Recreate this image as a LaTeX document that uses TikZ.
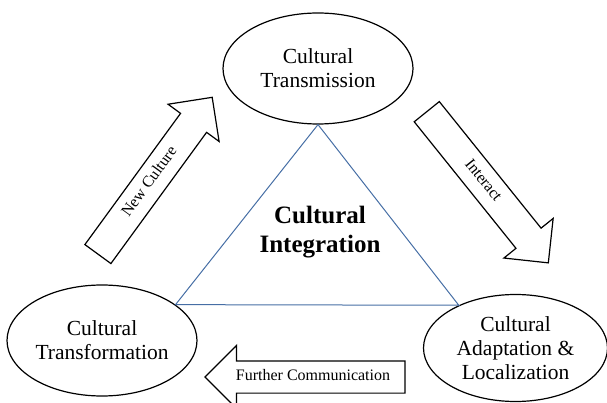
\documentclass[tikz,border=0pt]{standalone}
\usepackage{fontspec}
\setmainfont{Liberation Serif}
\usetikzlibrary{shapes.geometric,shapes.arrows}

\definecolor{triblue}{RGB}{70,110,165}

\begin{document}
\begin{tikzpicture}[x=1pt, y=-1pt,
        ell/.style={draw, ellipse, line width=1.2pt, minimum width=190pt, minimum height=111pt,
                    inner sep=0pt, align=center, font=\fontsize{21.5}{24}\selectfont},
        blk/.style={draw, single arrow, line width=1.2pt, single arrow head extend=15.5pt,
                    text height=11pt, text depth=4pt, inner ysep=8pt, font=\fontsize{16}{19}\selectfont},
        tri/.style={draw=triblue, line width=1pt}]
        \useasboundingbox (0,0) rectangle (607,403);

        \node[ell]                                             (trans)  at (318,68.5)  {Cultural\\Transmission};
        \node[ell]                                             (transf) at (102,340.5) {Cultural\\Transformation};
        \node[ell, minimum width=184pt, minimum height=107pt] (adapt)  at (515.5,348) {Cultural\\Adaptation \&\\Localization};

        \draw [tri] (trans.south)--(transf.26)--(adapt.143)--cycle;
        \node[align=center, font=\bfseries\fontsize{25}{29}\selectfont] (integ) at (320,232) {Cultural\\Integration};

        \node[blk, minimum height=194pt, rotate=53.9]              (newc)  at (150.3,182.2) {New Culture};
        \node[blk, minimum height=194pt, rotate=-51.2]             (inter) at (482.5,181)   {Interact};
        \node[blk, minimum height=200pt, shape border rotate=180]  (furth) at (313,377)     {Further Communication};
    \end{tikzpicture}
\end{document}
